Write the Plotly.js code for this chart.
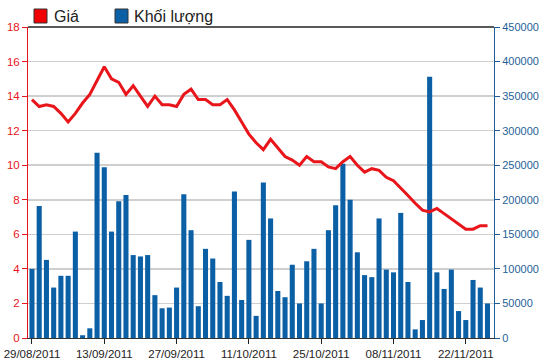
<!DOCTYPE html>
<html>
<head>
<meta charset="utf-8">
<script src="https://cdn.plot.ly/plotly-3.0.1.min.js"></script>
<style>html,body{margin:0;padding:0;background:#fff;}#chart{width:550px;height:364px;}</style>
</head>
<body>
<div id="chart"></div>
<script>
const dates = [
 "29/08/2011","30/08/2011","31/08/2011","01/09/2011","05/09/2011","06/09/2011","07/09/2011","08/09/2011","09/09/2011","12/09/2011",
 "13/09/2011","14/09/2011","15/09/2011","16/09/2011","19/09/2011","20/09/2011","21/09/2011","22/09/2011","23/09/2011","26/09/2011",
 "27/09/2011","28/09/2011","29/09/2011","30/09/2011","03/10/2011","04/10/2011","05/10/2011","06/10/2011","07/10/2011","10/10/2011",
 "11/10/2011","12/10/2011","13/10/2011","14/10/2011","17/10/2011","18/10/2011","19/10/2011","20/10/2011","21/10/2011","24/10/2011",
 "25/10/2011","26/10/2011","27/10/2011","28/10/2011","31/10/2011","01/11/2011","02/11/2011","03/11/2011","04/11/2011","07/11/2011",
 "08/11/2011","09/11/2011","10/11/2011","11/11/2011","14/11/2011","15/11/2011","16/11/2011","17/11/2011","18/11/2011","21/11/2011",
 "22/11/2011","23/11/2011","24/11/2011","25/11/2011"
];
const price = [
 13.8,13.4,13.5,13.4,13.0,12.5,13.0,13.6,14.1,14.9,
 15.7,15.0,14.8,14.1,14.6,14.0,13.4,14.0,13.5,13.5,
 13.4,14.1,14.4,13.8,13.8,13.5,13.5,13.8,13.2,12.5,
 11.8,11.3,10.9,11.5,11.0,10.5,10.3,10.0,10.5,10.2,
 10.2,9.9,9.8,10.2,10.5,10.0,9.6,9.8,9.7,9.3,
 9.1,8.7,8.25,7.8,7.4,7.3,7.5,7.2,6.9,6.6,
 6.3,6.3,6.5,6.5
];
const volume = [
 100000,191000,113000,73000,90000,90000,154000,4000,14000,268000,
 247000,154000,198000,207000,120000,118000,120000,62000,43000,44000,
 73000,208000,156000,46000,129000,115000,81000,61000,212000,55000,
 142000,32000,225000,173000,68000,59000,106000,50000,111000,129000,
 50000,156000,192000,252000,200000,124000,91000,88000,173000,99000,
 95000,181000,81000,12500,26000,378000,95000,71000,99000,39000,
 26000,84000,73000,50000
];
const tickDates = ["29/08/2011","13/09/2011","27/09/2011","11/10/2011","25/10/2011","08/11/2011","22/11/2011"];
const legendLabels = ["Giá","Khối lượng"];

const red = "#e8151b", blue = "#0b5fa5", blueAxis = "#1f5f99";
const font = "Liberation Sans, Arial, sans-serif";

const traces = [
 {type:"bar", x:dates, y:volume, yaxis:"y", marker:{color:blue}, showlegend:false, hoverinfo:"skip"},
 {type:"scatter", mode:"lines", x:dates, y:price, yaxis:"y2", line:{color:red, width:3}, showlegend:false, hoverinfo:"skip"}
];

const layout = {
 width:550, height:364,
 margin:{l:28, r:56, t:27, b:26},
 paper_bgcolor:"#fff", plot_bgcolor:"#fff",
 font:{family:font, size:11, color:"#222"},
 bargap:0.3,
 xaxis:{type:"category", range:[-0.55, 63.9], tickmode:"array", tickvals:tickDates, ticktext:tickDates,
  ticks:"outside", ticklen:5, tickcolor:"#222", showline:true, linecolor:"#333", linewidth:1,
  showgrid:false, zeroline:false, tickfont:{size:11.5, color:"#222"}},
 yaxis:{side:"right", range:[0,450000], dtick:50000, tickformat:"d", showgrid:true, gridcolor:"#cfcfcf", gridwidth:1.5,
  showline:true, linecolor:blueAxis, linewidth:1, ticks:"outside", ticklen:5, tickcolor:blueAxis,
  tickfont:{size:11, color:blueAxis}, zeroline:false},
 yaxis2:{side:"left", overlaying:"y", range:[0,18], dtick:2, showgrid:false,
  showline:true, linecolor:red, linewidth:1, ticks:"outside", ticklen:5, tickcolor:red,
  tickfont:{size:11.5, color:red}, zeroline:false},
 shapes:[
  {type:"line", xref:"paper", yref:"paper", x0:0, x1:1, y0:1, y1:1, line:{color:"#222", width:1.5}},
  {type:"rect", xref:"paper", yref:"paper", xsizemode:"pixel", ysizemode:"pixel", xanchor:0, yanchor:1,
   x0:6, x1:19, y0:4, y1:18, fillcolor:"#f00000", line:{color:"#333", width:1}},
  {type:"rect", xref:"paper", yref:"paper", xsizemode:"pixel", ysizemode:"pixel", xanchor:0, yanchor:1,
   x0:87, x1:100, y0:4, y1:18, fillcolor:blue, line:{color:"#333", width:1}}
 ],
 annotations:[
  {xref:"paper", yref:"paper", x:0, y:1, xshift:24, yshift:11, xanchor:"left", yanchor:"middle", showarrow:false,
   text:legendLabels[0], font:{family:font, size:16, color:"#222"}},
  {xref:"paper", yref:"paper", x:0, y:1, xshift:104, yshift:11, xanchor:"left", yanchor:"middle", showarrow:false,
   text:legendLabels[1], font:{family:font, size:16, color:"#222"}}
 ]
};

Plotly.newPlot("chart", traces, layout, {staticPlot:true, displayModeBar:false});
</script>
</body>
</html>
